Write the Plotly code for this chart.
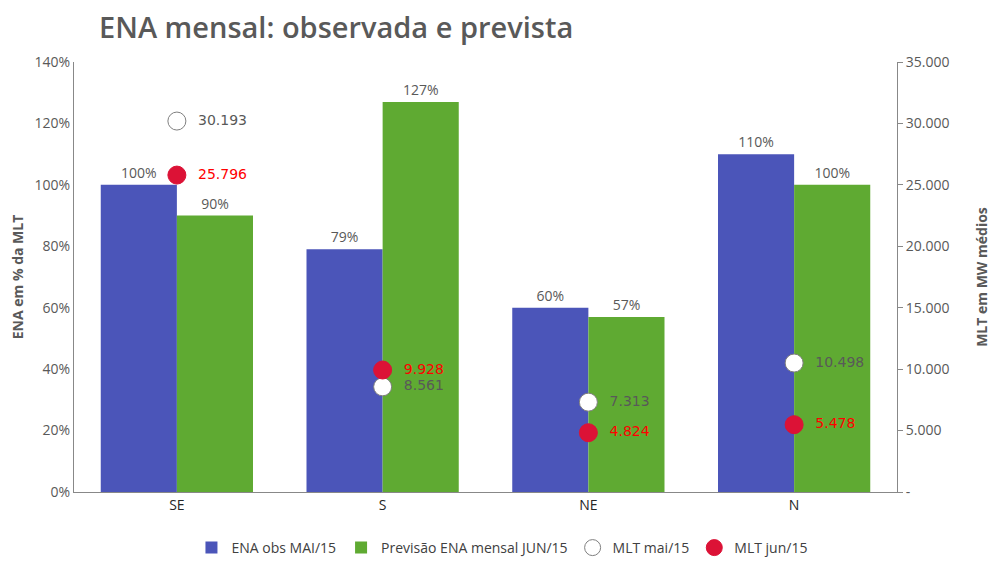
import plotly.graph_objects as go

categories = ["SE", "S", "NE", "N"]
ena_obs_mai = [100, 79, 60, 110]
prev_jun = [90, 127, 57, 100]
mlt_mai = [30193, 8561, 7313, 10498]
mlt_jun = [25796, 9928, 4824, 5478]

left_ticks = [0, 20, 40, 60, 80, 100, 120, 140]
right_ticks = [0, 5000, 10000, 15000, 20000, 25000, 30000, 35000]


def fmt_thousands(v):
    return f"{v:,}".replace(",", ".")


right_ticktext = ["-" if v == 0 else fmt_thousands(v) for v in right_ticks]

FONT = "Open Sans"
GRAY = "#595959"
W, H = 991, 554  # page body has an 8px margin

fig = go.Figure()
fig.add_trace(go.Bar(
    x=categories, y=ena_obs_mai, name="ENA obs MAI/15",
    marker=dict(color="#4B55B9", line=dict(width=0)),
    text=[f"{v}%" for v in ena_obs_mai], textposition="outside",
    textfont=dict(color=GRAY, size=14, family=FONT), cliponaxis=False,
))
fig.add_trace(go.Bar(
    x=categories, y=prev_jun, name="Previsão ENA mensal JUN/15",
    marker=dict(color="#5FAA32", line=dict(width=0)),
    text=[f"{v}%" for v in prev_jun], textposition="outside",
    textfont=dict(color=GRAY, size=14, family=FONT), cliponaxis=False,
))
fig.add_trace(go.Scatter(
    x=categories, y=mlt_mai, name="MLT mai/15", yaxis="y2",
    mode="markers+text",
    marker=dict(symbol="circle", size=18, color="white",
                line=dict(color="#7F7F7F", width=1)),
    text=["  " + fmt_thousands(v) for v in mlt_mai], textposition="middle right",
    textfont=dict(color=GRAY, size=14, family="DejaVu Sans"), cliponaxis=False,
))
fig.add_trace(go.Scatter(
    x=categories, y=mlt_jun, name="MLT jun/15", yaxis="y2",
    mode="markers+text",
    marker=dict(symbol="circle", size=18, color="#DC1236",
                line=dict(color="#DC1236", width=1)),
    text=["  " + fmt_thousands(v) for v in mlt_jun], textposition="middle right",
    textfont=dict(color="#FF0000", size=14, family="DejaVu Sans"), cliponaxis=False,
))

fig.update_layout(
    width=W, height=H,
    margin=dict(l=66, r=102, t=54, b=70, autoexpand=False),
    paper_bgcolor="white", plot_bgcolor="white",
    font=dict(family=FONT, color=GRAY, size=13),
    barmode="group", bargap=0.26, bargroupgap=0,
    title=dict(text="ENA mensal: observada e prevista", x=91 / W, xanchor="left",
               y=1 - 20 / H, yanchor="middle",
               font=dict(family=FONT, size=29, color=GRAY, weight=600)),
    xaxis=dict(showline=True, linecolor="#888888", ticks="", showgrid=False,
               automargin=False,
               tickfont=dict(color="#262626", size=14, family=FONT)),
    yaxis=dict(range=[0, 140], tickvals=left_ticks,
               ticktext=[f"{v}%" for v in left_ticks], automargin=False,
               showline=True, linecolor="#888888", showgrid=False, zeroline=False,
               ticks="", tickfont=dict(size=14, color=GRAY, family=FONT),
               title=dict(text="<b>ENA em % da MLT</b>", standoff=20,
                          font=dict(size=14, color=GRAY, family=FONT))),
    yaxis2=dict(range=[0, 35000], overlaying="y", side="right",
                tickvals=right_ticks, ticktext=right_ticktext, automargin=False,
                showline=True, linecolor="#888888", showgrid=False, zeroline=False,
                ticks="outside", ticklen=5, tickcolor="#888888",
                tickfont=dict(size=14, color=GRAY, family=FONT),
                title=dict(text="<b>MLT em MW médios</b>", standoff=28,
                           font=dict(size=14, color=GRAY, family=FONT))),
    legend=dict(orientation="h", x=0.52, xanchor="center",
                yref="container", y=14 / H, yanchor="middle",
                font=dict(size=14, color="#404040", family=FONT),
                itemwidth=30, traceorder="normal"),
)

fig.write_html("out.html")
